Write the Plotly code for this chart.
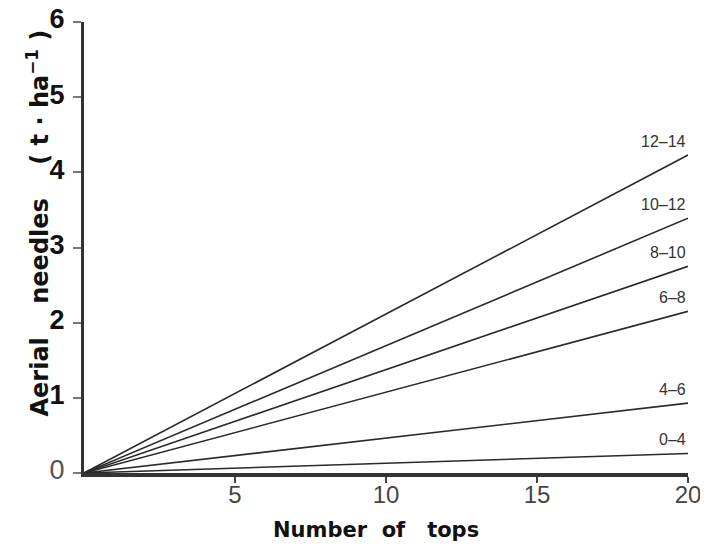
import plotly.graph_objects as go

x_points = [0, 20]
groups = ["0–4", "4–6", "6–8", "8–10", "10–12", "12–14"]
end_values = [0.26, 0.93, 2.15, 2.75, 3.39, 4.23]
x_ticks = [5, 10, 15, 20]
y_ticks = [0, 1, 2, 3, 4, 5, 6]

fig = go.Figure()
for g, v in zip(groups, end_values):
    fig.add_trace(go.Scatter(x=x_points, y=[0, v], mode="lines", name=g,
                             line=dict(color="#2a2a2a", width=1.6), showlegend=False))
    fig.add_annotation(x=20, y=v, xref="x", yref="y", text=g, showarrow=False,
                       xanchor="right", yanchor="bottom", yshift=3, xshift=0,
                       font=dict(family="Liberation Sans", size=16, color="#333"))

fig.add_annotation(x=0.5, y=0, xref="paper", yref="paper",
                   text="<b>Number  of   tops</b>", showarrow=False,
                   xanchor="center", yanchor="middle", yshift=-57, xshift=-10,
                   font=dict(family="DejaVu Sans", size=21, color="#111"))
fig.add_annotation(x=0, y=0.5, xref="paper", yref="paper", xshift=-47, yshift=24,
                   text="<b>Aerial    needles    ( t · ha<sup>−1</sup> )</b>", showarrow=False,
                   textangle=-90, xanchor="center", yanchor="middle",
                   font=dict(family="DejaVu Sans", size=24, color="#111"))

fig.update_layout(
    width=700, height=539,
    margin=dict(l=76, r=20, t=14, b=74),
    paper_bgcolor="white", plot_bgcolor="white",
    xaxis=dict(range=[0, 20], tickvals=x_ticks, showline=True, linewidth=4,
               linecolor="#333", ticks="outside", ticklen=6, tickwidth=2,
               tickcolor="#444", showgrid=False, zeroline=False, automargin=False,
               ticklabelstandoff=-9, ticklabeloverflow="allow",
               tickfont=dict(family="Liberation Sans", size=24, color="#444")),
    yaxis=dict(range=[0, 6], tickvals=y_ticks,
               ticktext=["<span style='font-weight:normal;color:#555'>0</span>"] + ["<b>%d</b>" % t for t in y_ticks[1:]],
               showline=True, linewidth=3,
               linecolor="#333", ticks="outside", ticklen=8, tickwidth=2,
               tickcolor="#777", showgrid=False, zeroline=False, automargin=False,
               ticklabeloverflow="allow", ticklabelstandoff=3, ticklabelshift=-3,
               tickfont=dict(family="Liberation Sans", size=27, color="#111")),
)

fig.write_html("out.html")
